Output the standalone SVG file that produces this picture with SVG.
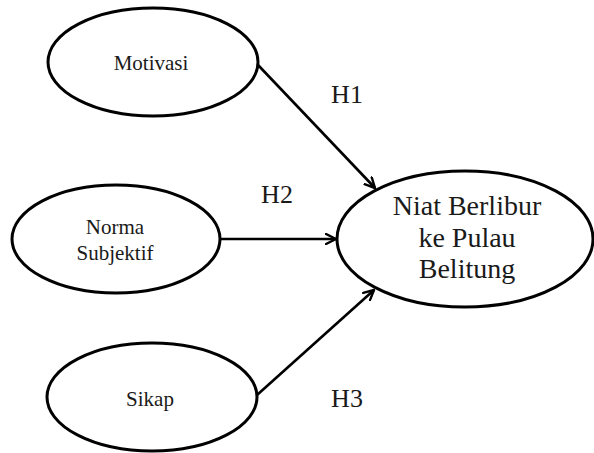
<svg xmlns="http://www.w3.org/2000/svg" width="594" height="453" viewBox="0 0 594 453">
<style>
.node ellipse{fill:#fff;stroke:#000;stroke-width:3}
text{font-family:'Liberation Serif','DejaVu Serif',serif;fill:#1a1a1a;text-anchor:middle}
.s{font-size:21px}
.l{font-size:28px}
.h{font-size:26px}
.conn line{stroke:#000;stroke-width:2.6;fill:none}
</style>
<defs>
<marker id="arr" viewBox="0 0 12 12" refX="11" refY="6" markerWidth="12" markerHeight="12" markerUnits="userSpaceOnUse" orient="auto">
<path d="M1,1 L11,6 L1,11" fill="none" stroke="#000" stroke-width="2.4" stroke-linecap="round" stroke-linejoin="round"/>
</marker>
</defs>
<rect width="594" height="453" fill="#fff"/>
<g class="conn" id="connectors">
<line x1="258" y1="65" x2="375" y2="188" marker-end="url(#arr)"/>
<line x1="220" y1="239" x2="336" y2="239" marker-end="url(#arr)"/>
<line x1="257" y1="395" x2="374" y2="290" marker-end="url(#arr)"/>
</g>
<g class="node" id="motivasi">
<ellipse cx="153" cy="62" rx="105" ry="54"/>
<text class="s" x="151" y="70" font-family="Liberation Serif">Motivasi</text>
</g>
<g class="node" id="norma">
<ellipse cx="116" cy="239" rx="104" ry="54"/>
<text class="s" x="115" y="234" font-family="Liberation Serif">Norma</text>
<text class="s" x="115" y="260" font-family="Liberation Serif">Subjektif</text>
</g>
<g class="node" id="sikap">
<ellipse cx="152" cy="397" rx="105" ry="54"/>
<text class="s" x="150" y="406" font-family="Liberation Serif">Sikap</text>
</g>
<g class="node" id="niat">
<ellipse cx="465" cy="239" rx="128" ry="68"/>
<text class="l" x="467" y="215" font-family="Liberation Serif">Niat Berlibur</text>
<text class="l" x="467" y="247" font-family="Liberation Serif">ke Pulau</text>
<text class="l" x="467" y="278" font-family="Liberation Serif">Belitung</text>
</g>
<g id="labels">
<text class="h" x="347" y="103" font-family="Liberation Serif">H1</text>
<text class="h" x="277" y="203" font-family="Liberation Serif">H2</text>
<text class="h" x="347" y="407" font-family="Liberation Serif">H3</text>
</g>
</svg>
